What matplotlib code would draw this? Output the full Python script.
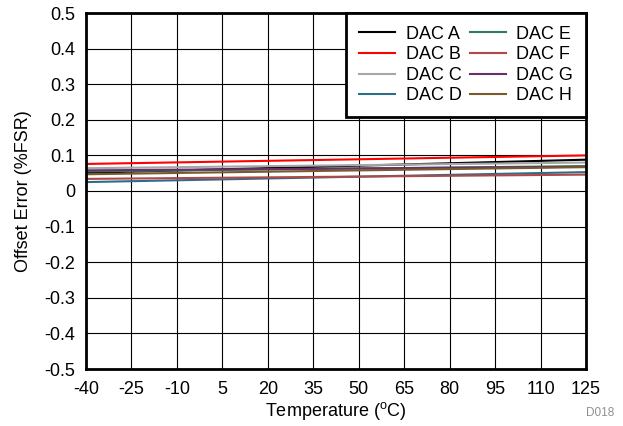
import matplotlib
matplotlib.use("Agg")
import matplotlib.pyplot as plt

plt.rcParams['font.family'] = ['Liberation Sans', 'DejaVu Sans']

temps = [-40, 125]
series_names = ["DAC A", "DAC B", "DAC C", "DAC D", "DAC E", "DAC F", "DAC G", "DAC H"]
dac_a = [0.051, 0.088]
dac_b = [0.076, 0.100]
dac_c = [0.064, 0.080]
dac_d = [0.025, 0.053]
dac_e = [0.055, 0.070]
dac_f = [0.034, 0.046]
dac_g = [0.058, 0.068]
dac_h = [0.047, 0.067]
colors = ["#000000", "#ff0000", "#a6a6a6", "#2e6d8a", "#2e7d5a", "#b04848", "#6b2e6b", "#7a5a2a"]
xticks = [-40, -25, -10, 5, 20, 35, 50, 65, 80, 95, 110, 125]
yticks = [-0.5, -0.4, -0.3, -0.2, -0.1, 0, 0.1, 0.2, 0.3, 0.4, 0.5]

fig = plt.figure(figsize=(6.23, 4.26), dpi=100)
ax = fig.add_axes([86/623, 1-369/426, 500/623, 356/426])

for name, vals, c in zip(series_names, [dac_a, dac_b, dac_c, dac_d, dac_e, dac_f, dac_g, dac_h], colors):
    ax.plot(temps, vals, color=c, lw=1.5, label=name)

ax.set_xlim(-40, 125)
ax.set_ylim(-0.5, 0.5)
ax.set_xticks(xticks)
ax.set_xticklabels([str(t) for t in xticks])
ax.set_yticks(yticks)
ax.set_yticklabels(["-0.5", "-0.4", "-0.3", "-0.2", "-0.1", "0", "0.1", "0.2", "0.3", "0.4", "0.5"])
ax.grid(True, color="black", lw=0.8)
ax.tick_params(axis="x", length=0, labelsize=13, pad=9)
ax.tick_params(axis="y", length=0, labelsize=13, pad=8)
for s in ax.spines.values():
    s.set_linewidth(2)
ax.set_xlabel("Temperature ($\\mathregular{^o}$C)", fontsize=13, labelpad=1)
ax.set_ylabel("Offset Error (%FSR)", fontsize=13, labelpad=9)

leg = ax.legend(ncol=2, loc="upper right", fontsize=13, frameon=True, fancybox=False,
                edgecolor="black", framealpha=1, handlelength=2.0, columnspacing=0.45,
                handletextpad=0.6, labelspacing=0.2, borderaxespad=0.0, borderpad=0.7)
leg.get_frame().set_linewidth(2)

fig.text(614/623, 1-413/426, "D018", fontsize=8.5, color="#909090", ha="right", va="center")

fig.savefig("out.png", dpi=100)
